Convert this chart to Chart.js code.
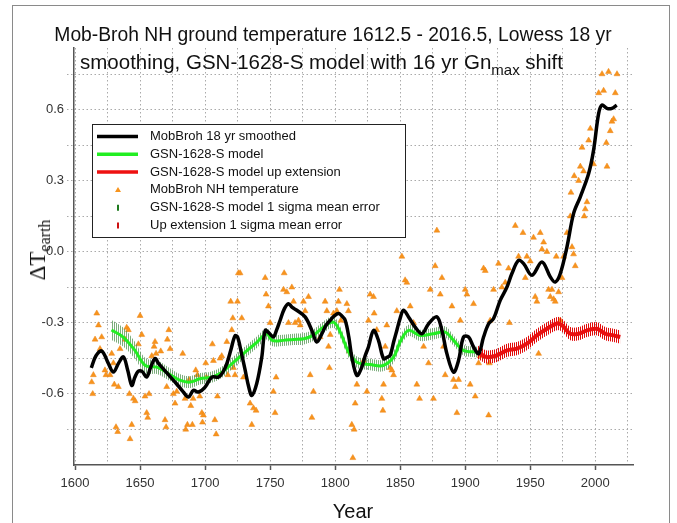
<!DOCTYPE html>
<html lang="en">
<head>
<meta charset="UTF-8">
<title>Mob-Broh NH ground temperature</title>
<script src="https://cdn.jsdelivr.net/npm/chart.js"></script>
<style>
  body { margin: 0; background: #fff; font-family: Arial, "Liberation Sans", sans-serif; }
  .wrap { position: relative; width: 677px; height: 523px; overflow: hidden; }
  .frame { position: absolute; left: 12px; top: 5px; width: 656px; height: 560px; border: 1px solid #8a8a8a; }
  canvas { position: absolute; left: 0; top: 0; }
  .title { position: absolute; line-height: 28px; color: #111; white-space: nowrap; }
  .t1 { left: 0; width: 666px; text-align: center; font-size: 19.3px; top: 21px; }
  .t2 { left: 80px; font-size: 20.5px; top: 48px; }
  .title sub { font-size: 15px; vertical-align: -6px; line-height: 0; }
  .ylab {
    position: absolute; left: 38px; top: 250px; white-space: nowrap; color: #111;
    transform: translate(-50%, -50%) rotate(-90deg);
    font-family: "Liberation Serif", "Times New Roman", serif; font-size: 23px;
  }
  .ylab sub { font-size: 16px; vertical-align: -5px; line-height: 0; }
  .xlab { position: absolute; left: 353px; top: 511px; transform: translate(-50%, -50%); font-size: 20px; color: #111; }
</style>
</head>
<body>
<div class="wrap">
  <div class="frame"></div>
  <canvas id="chart" width="677" height="523"></canvas>
  <div class="title t1">Mob-Broh NH ground temperature 1612.5 - 2016.5, Lowess 18 yr</div>
  <div class="title t2">smoothing, GSN-1628-S model with 16 yr Gn<sub>max</sub> shift</div>
  <div class="ylab">&Delta;T<sub>earth</sub></div>
  <div class="xlab">Year</div>
</div>

<script>
  // axis ticks
  const xLabelYears = [1600, 1650, 1700, 1750, 1800, 1850, 1900, 1950, 2000];
  const xGridYears = [1600, 1625, 1650, 1675, 1700, 1725, 1750, 1775, 1800, 1825, 1850, 1875, 1900, 1925, 1950, 1975, 2000, 2025];
  const yLabelVals = [-0.6, -0.3, 0.0, 0.3, 0.6];
  const yGridVals = [-0.75, -0.6, -0.45, -0.3, -0.15, 0.0, 0.15, 0.3, 0.45, 0.6, 0.75];

  // MobBroh 18 yr smoothed
  const smoothYears = [1612.5, 1616, 1620.5, 1625.5, 1629.5, 1633.5, 1637.2, 1640.5, 1643.6, 1646, 1648.5, 1651.5, 1655, 1658, 1661.5, 1664, 1666.7, 1672, 1678, 1683, 1687.2, 1691, 1695, 1700, 1705.2, 1710.3, 1713.5, 1716.7, 1720, 1723, 1725, 1728, 1730.8, 1733.5, 1735.9, 1739.7, 1743.6, 1746.2, 1749.5, 1752.5, 1755, 1757.7, 1761, 1764.1, 1767, 1770.5, 1776.9, 1782.1, 1785.9, 1789.8, 1793, 1796.2, 1799.5, 1802.5, 1805, 1807.7, 1810.5, 1812.8, 1816.7, 1820.5, 1823, 1825.6, 1829.5, 1833.3, 1837.2, 1840, 1842.3, 1845, 1847.4, 1850, 1852.5, 1856.4, 1861.5, 1866.7, 1871.8, 1878.2, 1882.1, 1885.9, 1891, 1894.9, 1898.7, 1902.6, 1906.4, 1910.3, 1914.1, 1918, 1921.8, 1926.9, 1932.1, 1935.9, 1941, 1944.9, 1951.3, 1959, 1965.4, 1969.2, 1973.1, 1978.2, 1983.3, 1988.5, 1994.9, 1998.7, 2002.6, 2005.2, 2009, 2012.8, 2016.5];
  const smoothVals = [-0.49, -0.44, -0.419, -0.47, -0.508, -0.47, -0.444, -0.5, -0.564, -0.53, -0.505, -0.505, -0.529, -0.49, -0.451, -0.47, -0.487, -0.52, -0.557, -0.59, -0.613, -0.585, -0.592, -0.571, -0.529, -0.529, -0.51, -0.472, -0.41, -0.355, -0.36, -0.43, -0.5, -0.57, -0.606, -0.556, -0.444, -0.332, -0.345, -0.36, -0.33, -0.289, -0.24, -0.219, -0.235, -0.247, -0.275, -0.332, -0.381, -0.346, -0.31, -0.289, -0.27, -0.261, -0.27, -0.289, -0.36, -0.444, -0.522, -0.487, -0.44, -0.402, -0.332, -0.374, -0.451, -0.445, -0.437, -0.38, -0.332, -0.28, -0.247, -0.275, -0.318, -0.346, -0.304, -0.275, -0.332, -0.43, -0.508, -0.458, -0.36, -0.36, -0.402, -0.43, -0.36, -0.304, -0.282, -0.205, -0.149, -0.092, -0.036, -0.05, -0.099, -0.043, -0.106, -0.128, -0.092, 0.02, 0.161, 0.232, 0.33, 0.429, 0.584, 0.619, 0.605, 0.605, 0.619];

  // GSN-1628-S model and its 1 sigma mean error
  const modelYears = [1628, 1637, 1646, 1654, 1663, 1672, 1681, 1688.5, 1696, 1705, 1713, 1722, 1731, 1740, 1747.4, 1751.5, 1760, 1768, 1776, 1783, 1791, 1798.7, 1804, 1810, 1816.7, 1827, 1837, 1845, 1850, 1856.4, 1865.4, 1875.6, 1884.6, 1891, 1898.7, 1909];
  const modelVals = [-0.33, -0.36, -0.416, -0.48, -0.487, -0.515, -0.543, -0.55, -0.536, -0.529, -0.508, -0.466, -0.423, -0.381, -0.346, -0.374, -0.374, -0.37, -0.367, -0.353, -0.318, -0.297, -0.34, -0.42, -0.466, -0.476, -0.48, -0.444, -0.38, -0.332, -0.353, -0.346, -0.339, -0.374, -0.416, -0.423];
  const modelSigma = [0.042, 0.04, 0.036, 0.032, 0.029, 0.027, 0.026, 0.025, 0.024, 0.024, 0.024, 0.024, 0.024, 0.024, 0.024, 0.024, 0.024, 0.024, 0.024, 0.024, 0.024, 0.024, 0.024, 0.024, 0.024, 0.024, 0.024, 0.024, 0.024, 0.024, 0.024, 0.024, 0.024, 0.022, 0.022, 0.022];

  // GSN-1628-S model up extension and its 1 sigma mean error
  const extYears = [1909, 1911.5, 1916, 1919.2, 1924.4, 1932.1, 1939.7, 1947.4, 1955.1, 1962.8, 1970.5, 1974.4, 1980.8, 1987.2, 1993.6, 2001.3, 2007.7, 2014.1, 2019.2];
  const extVals = [-0.423, -0.43, -0.444, -0.444, -0.437, -0.416, -0.409, -0.388, -0.353, -0.325, -0.303, -0.31, -0.346, -0.346, -0.332, -0.325, -0.346, -0.353, -0.36];
  const extSigma = [0.028, 0.028, 0.028, 0.028, 0.028, 0.028, 0.028, 0.028, 0.028, 0.028, 0.028, 0.028, 0.028, 0.028, 0.028, 0.028, 0.028, 0.028, 0.028];

  // MobBroh NH temperature
  const obsYears = [1612.8, 1613.6, 1614.1, 1615.4, 1616.7, 1618.0, 1619.2, 1620.5, 1623.0, 1623.8, 1626.9, 1628.2, 1629.5, 1630.2, 1631.5, 1632.8, 1633.3, 1634.6, 1638.5, 1639.7, 1641.0, 1641.8, 1642.3, 1643.6, 1644.9, 1646.2, 1648.7, 1650.0, 1651.3, 1653.8, 1655.1, 1655.9, 1656.9, 1659.0, 1660.8, 1661.5, 1662.3, 1665.9, 1669.2, 1670.0, 1670.5, 1671.0, 1672.1, 1673.1, 1675.6, 1676.9, 1678.2, 1682.8, 1684.6, 1685.1, 1686.4, 1687.7, 1689.0, 1690.2, 1690.8, 1692.8, 1694.1, 1695.9, 1697.5, 1698.0, 1698.7, 1700.5, 1701.0, 1705.6, 1706.4, 1707.5, 1708.5, 1709.5, 1711.5, 1712.8, 1716.7, 1717.5, 1719.7, 1720.5, 1721.3, 1721.8, 1723.0, 1724.9, 1725.6, 1726.9, 1728.2, 1729.5, 1734.6, 1735.9, 1737.2, 1739.2, 1746.2, 1746.9, 1748.7, 1750.0, 1752.5, 1753.8, 1754.6, 1760.3, 1760.8, 1762.8, 1764.1, 1766.7, 1768.0, 1769.2, 1771.8, 1773.1, 1775.6, 1776.9, 1779.5, 1780.8, 1782.1, 1783.3, 1788.5, 1792.3, 1793.6, 1794.9, 1795.6, 1796.2, 1798.7, 1801.3, 1802.5, 1803.3, 1804.4, 1809.0, 1810.2, 1811.0, 1812.8, 1813.6, 1814.6, 1815.4, 1816.7, 1821.8, 1824.4, 1825.6, 1826.9, 1829.5, 1830.0, 1832.0, 1835.9, 1836.7, 1837.2, 1838.5, 1839.7, 1842.3, 1843.6, 1844.9, 1847.4, 1851.3, 1853.8, 1855.1, 1857.7, 1860.3, 1862.8, 1864.9, 1868.0, 1871.8, 1873.1, 1875.6, 1876.9, 1878.2, 1880.8, 1882.1, 1883.3, 1884.6, 1889.8, 1891.0, 1892.3, 1893.6, 1894.9, 1896.2, 1900.0, 1901.3, 1903.8, 1906.4, 1907.7, 1910.3, 1911.5, 1914.1, 1915.4, 1918.0, 1918.6, 1919.2, 1921.8, 1925.6, 1928.2, 1930.8, 1933.3, 1934.0, 1938.5, 1941.0, 1944.4, 1946.2, 1947.4, 1950.0, 1952.5, 1953.8, 1955.1, 1956.4, 1957.7, 1959.0, 1960.3, 1962.8, 1964.1, 1965.4, 1966.7, 1968.0, 1969.2, 1970.0, 1971.8, 1973.1, 1974.4, 1975.6, 1978.2, 1980.8, 1981.3, 1982.1, 1983.3, 1983.8, 1984.6, 1987.2, 1988.5, 1989.8, 1991.0, 1991.5, 1992.3, 1993.6, 1994.9, 1996.2, 1998.7, 2002.6, 2005.2, 2006.4, 2008.5, 2009.0, 2010.2, 2011.5, 2012.8, 2014.1, 2015.4, 2016.7];
  const obsVals = [-0.55, -0.60, -0.52, -0.37, -0.26, -0.31, -0.41, -0.36, -0.50, -0.52, -0.52, -0.43, -0.47, -0.56, -0.74, -0.76, -0.57, -0.41, -0.37, -0.32, -0.33, -0.60, -0.79, -0.73, -0.62, -0.63, -0.39, -0.27, -0.35, -0.61, -0.68, -0.70, -0.60, -0.44, -0.40, -0.38, -0.43, -0.42, -0.71, -0.74, -0.57, -0.37, -0.33, -0.41, -0.60, -0.64, -0.59, -0.43, -0.62, -0.75, -0.73, -0.54, -0.65, -0.73, -0.62, -0.50, -0.52, -0.61, -0.68, -0.72, -0.69, -0.47, -0.53, -0.39, -0.46, -0.71, -0.77, -0.61, -0.45, -0.44, -0.38, -0.52, -0.21, -0.33, -0.28, -0.49, -0.52, -0.21, -0.09, -0.09, -0.28, -0.53, -0.64, -0.73, -0.66, -0.67, -0.11, -0.18, -0.23, -0.30, -0.59, -0.68, -0.53, -0.16, -0.09, -0.17, -0.30, -0.15, -0.21, -0.30, -0.29, -0.31, -0.21, -0.25, -0.19, -0.52, -0.70, -0.59, -0.36, -0.21, -0.25, -0.40, -0.49, -0.35, -0.26, -0.25, -0.21, -0.16, -0.29, -0.22, -0.25, -0.42, -0.73, -0.87, -0.75, -0.64, -0.56, -0.46, -0.59, -0.29, -0.18, -0.19, -0.26, -0.33, -0.62, -0.67, -0.56, -0.40, -0.31, -0.49, -0.50, -0.52, -0.25, -0.02, -0.12, -0.13, -0.23, -0.30, -0.56, -0.62, -0.40, -0.47, -0.16, -0.62, -0.06, 0.09, -0.18, -0.11, -0.40, -0.52, -0.23, -0.54, -0.57, -0.68, -0.54, -0.29, -0.16, -0.18, -0.56, -0.22, -0.61, -0.47, -0.44, -0.07, -0.08, -0.69, -0.47, -0.29, -0.16, -0.05, -0.15, -0.13, -0.07, -0.30, 0.11, -0.02, 0.08, -0.11, -0.02, -0.04, 0.06, -0.19, -0.21, -0.43, 0.08, 0.01, 0.04, 0.00, -0.16, -0.19, -0.16, -0.20, -0.21, -0.02, -0.17, -0.29, -0.11, -0.02, 0.08, 0.15, 0.25, 0.02, -0.01, 0.32, -0.06, 0.30, 0.36, 0.44, 0.34, 0.15, 0.18, 0.21, 0.47, 0.52, 0.37, 0.67, 0.75, 0.68, 0.46, 0.36, 0.76, 0.51, 0.55, 0.56, 0.67, 0.75];

  const legendLabels = [
    'MobBroh 18 yr smoothed',
    'GSN-1628-S model',
    'GSN-1628-S model up extension',
    'MobBroh NH temperature',
    'GSN-1628-S model 1 sigma mean error',
    'Up extension 1 sigma mean error'
  ];

  const toXY = (xs, ys) => xs.map((x, i) => ({ x: x, y: ys[i] }));

  // hatch of small vertical error ticks
  function hatch(color) {
    const c = document.createElement('canvas');
    c.width = 2; c.height = 2;
    const p = c.getContext('2d');
    p.fillStyle = color;
    p.fillRect(0, 0, 1, 2);
    return c;
  }

  const ctx = document.getElementById('chart').getContext('2d');
  const greenHatch = ctx.createPattern(hatch('rgba(80,145,80,0.75)'), 'repeat');
  const redHatch = ctx.createPattern(hatch('rgba(225,10,10,1)'), 'repeat');

  const legendBox = {
    id: 'legendBox',
    afterDatasetsDraw(chart) {
      const c = chart.ctx;
      c.save();
      c.fillStyle = '#fff';
      c.fillRect(92, 124, 314, 114);
      c.strokeStyle = '#222';
      c.lineWidth = 1;
      c.strokeRect(92.5, 124.5, 313, 113);
      c.font = '13px Arial, "Liberation Sans", sans-serif';
      c.textBaseline = 'middle';
      const lineCols = ['#000', '#22ee22', '#ee1111'];
      legendLabels.forEach((txt, i) => {
        const y = 136.5 + i * 17.8;
        if (i < 3) {
          c.strokeStyle = lineCols[i];
          c.lineWidth = 3.5;
          c.beginPath(); c.moveTo(97, y); c.lineTo(138, y); c.stroke();
        } else if (i === 3) {
          c.fillStyle = '#f7941d';
          c.beginPath(); c.moveTo(118, y - 3); c.lineTo(121, y + 2); c.lineTo(115, y + 2); c.closePath(); c.fill();
        } else {
          c.strokeStyle = i === 4 ? '#1e7a1e' : '#cc1111';
          c.lineWidth = 2;
          c.beginPath(); c.moveTo(118, y - 3); c.lineTo(118, y + 3); c.stroke();
        }
        c.fillStyle = '#111';
        c.fillText(txt, 150, y);
      });
      c.restore();
    }
  };

  new Chart(ctx, {
    type: 'scatter',
    data: {
      datasets: [
        { data: toXY(smoothYears, smoothVals), showLine: true, borderColor: '#000', borderWidth: 3.5, pointRadius: 0, tension: 0.35, order: 0 },
        { data: toXY(modelYears, modelVals), showLine: true, borderColor: '#22ee22', borderWidth: 3, pointRadius: 0, tension: 0.35, order: 2 },
        { data: toXY(extYears, extVals), showLine: true, borderColor: '#e81010', borderWidth: 4, pointRadius: 0, tension: 0.35, order: 1 },
        { data: toXY(obsYears, obsVals), pointStyle: 'triangle', pointRadius: 3.4, backgroundColor: '#f7941d', borderColor: '#ec8418', borderWidth: 0.5, order: 5 },
        { data: toXY(modelYears, modelVals.map((v, i) => v + modelSigma[i])), showLine: true, borderWidth: 0, borderColor: 'transparent', pointRadius: 0, tension: 0.35, order: 4 },
        { data: toXY(modelYears, modelVals.map((v, i) => v - modelSigma[i])), showLine: true, borderWidth: 0, borderColor: 'transparent', pointRadius: 0, tension: 0.35, fill: '-1', backgroundColor: greenHatch, order: 4 },
        { data: toXY(extYears, extVals.map((v, i) => v + extSigma[i])), showLine: true, borderWidth: 0, borderColor: 'transparent', pointRadius: 0, tension: 0.35, order: 3 },
        { data: toXY(extYears, extVals.map((v, i) => v - extSigma[i])), showLine: true, borderWidth: 0, borderColor: 'transparent', pointRadius: 0, tension: 0.35, fill: '-1', backgroundColor: redHatch, order: 3 }
      ]
    },
    options: {
      responsive: false,
      animation: false,
      events: [],
      layout: { padding: { top: 48, right: 44, left: 0, bottom: 0 } },
      plugins: { legend: { display: false }, tooltip: { enabled: false } },
      scales: {
        x: {
          type: 'linear', min: 1599.2, max: 2029,
          afterBuildTicks: s => { s.ticks = xGridYears.map(v => ({ value: v })); },
          afterFit: s => { s.height = 58; },
          ticks: {
            autoSkip: false, maxRotation: 0, padding: 6, color: '#333',
            font: { size: 13, family: 'Arial' },
            callback: v => xLabelYears.includes(v) ? String(v) : ''
          },
          grid: {
            color: '#aaaaaa', lineWidth: 1, tickLength: 5, tickWidth: 1.5,
            tickColor: c => (c.tick && xLabelYears.includes(c.tick.value)) ? '#555' : 'rgba(0,0,0,0)'
          },
          border: { display: true, color: '#555', width: 1.5, dash: [1.5, 2.5] }
        },
        y: {
          min: -0.9, max: 0.86,
          afterBuildTicks: s => { s.ticks = yGridVals.map(v => ({ value: v })); },
          afterFit: s => { s.width = 74; },
          ticks: {
            autoSkip: false, padding: 3, color: '#333',
            font: { size: 13, family: 'Arial' },
            callback: v => yLabelVals.some(t => Math.abs(t - v) < 1e-6) ? v.toFixed(1) : ''
          },
          grid: { color: '#aaaaaa', lineWidth: 1, tickLength: 7, tickColor: '#aaaaaa', tickBorderDash: [1.5, 2.5] },
          border: { display: true, color: '#555', width: 1.5, dash: [1.5, 2.5] }
        }
      }
    },
    plugins: [legendBox]
  });
</script>
</body>
</html>
